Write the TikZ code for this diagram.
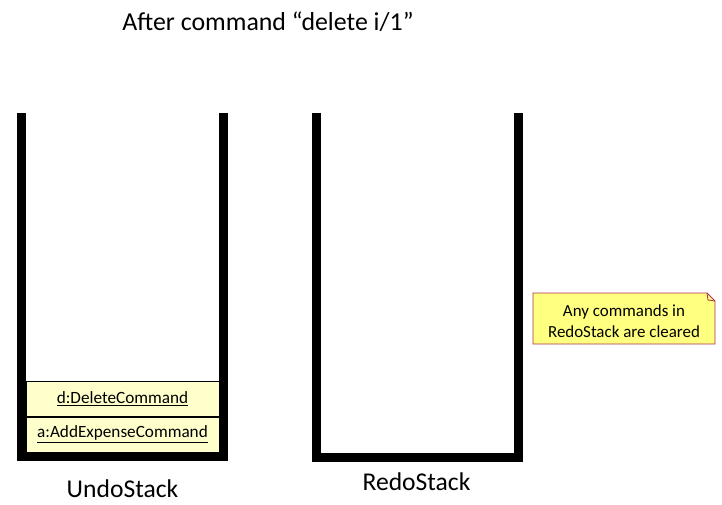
\documentclass[tikz,border=0pt]{standalone}
\usepackage{fontspec}
\setmainfont{Carlito}
\definecolor{objfill}{RGB}{255,255,204}
\definecolor{notefill}{RGB}{255,255,128}
\definecolor{noteline}{RGB}{176,48,88}
\tikzset{
  wall/.style={line width=6.75pt,miter limit=10},
  obj/.style={draw=black,fill=objfill,line width=0.6pt,minimum width=144.75pt,minimum height=26.25pt,inner sep=0pt,font=\fontsize{12.9}{14}\selectfont},
}
\begin{document}
\begin{tikzpicture}[x=0.75pt,y=-0.75pt]
      \useasboundingbox (0,0) rectangle (722,504);
      \draw[wall] (21.5,113) -- (21.5,456.5) -- (223.5,456.5) -- (223.5,113);
      \draw[wall] (316.5,113) -- (316.5,457) -- (518.5,457) -- (518.5,113);
      \draw[fill=notefill,draw=noteline,line width=0.6pt]
        (533,293) -- (707,293) -- (715,301) -- (715,344) -- (533,344) -- cycle;
      \draw[draw=noteline,line width=0.6pt] (707,293) -- (708,300) -- (715,301);
      \draw
        (268,22) node (title){\fontsize{19.4}{22}\selectfont After command “delete i/1”}
        (122.5,399) node[obj] (d){\underline{d:DeleteCommand}}
        (122.5,434.5) node[obj] (a){\underline{a:AddExpenseCommand}}
        (122.5,489) node (undo){\fontsize{19.2}{22}\selectfont UndoStack}
        (416.5,482) node (redo){\fontsize{19.2}{22}\selectfont RedoStack}
        (624,321) node[align=center,font=\fontsize{12.7}{15.5}\selectfont] (note){Any commands in\\RedoStack are cleared};
    \end{tikzpicture}
\end{document}
